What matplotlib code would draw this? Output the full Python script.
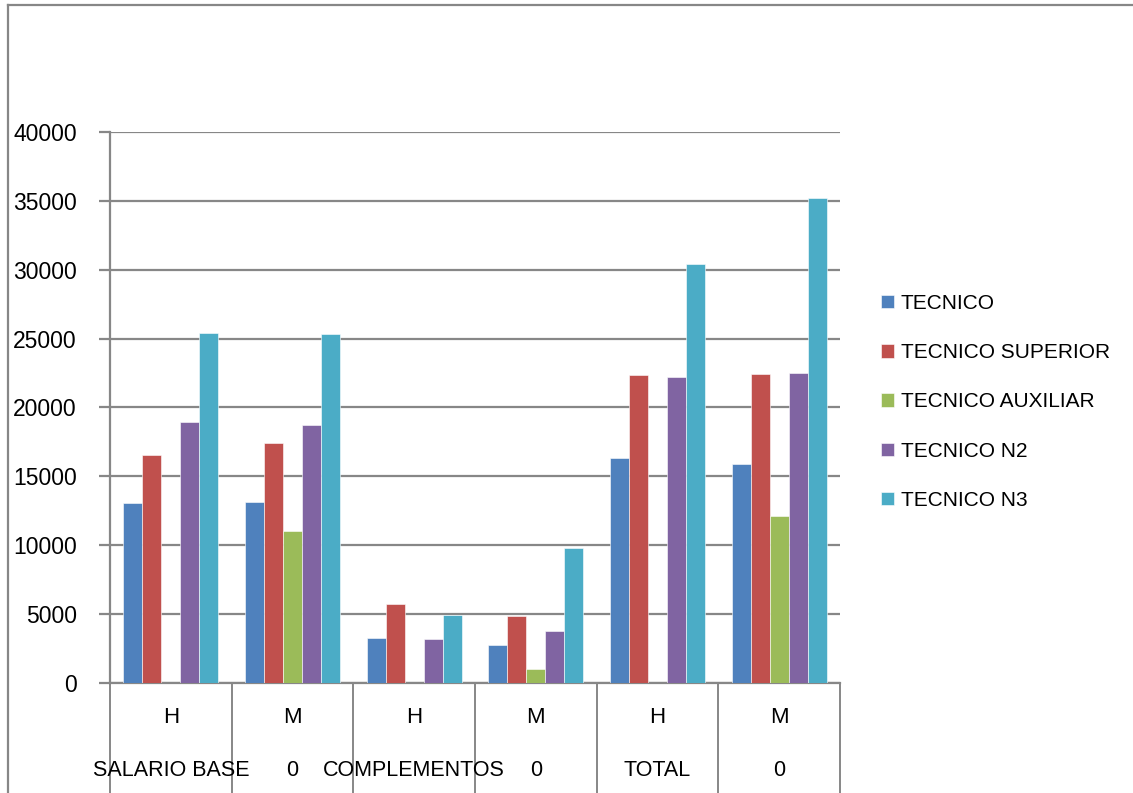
import matplotlib
matplotlib.use("Agg")
import matplotlib.pyplot as plt
import numpy as np

plt.rcParams['font.family'] = ['Liberation Sans', 'DejaVu Sans']

# categories (two levels, as in the spreadsheet)
sexo = ["H", "M", "H", "M", "H", "M"]
grupos = ["SALARIO BASE", "0", "COMPLEMENTOS", "0", "TOTAL", "0"]

series = ["TECNICO", "TECNICO SUPERIOR", "TECNICO AUXILIAR", "TECNICO N2", "TECNICO N3"]
tecnico = [13050, 13160, 3280, 2750, 16340, 15910]
tecnico_sup = [16550, 17440, 5760, 4900, 22340, 22400]
tecnico_aux = [0, 11040, 0, 1020, 0, 12090]
tecnico_n2 = [18980, 18710, 3180, 3740, 22210, 22480]
tecnico_n3 = [25440, 25330, 4930, 9830, 30440, 35210]

colores = ["#4f81bd", "#c0504d", "#9bbb59", "#8064a2", "#4bacc6"]
gris = "#878787"

fig = plt.figure(figsize=(11.33, 7.93), dpi=100)
ax = fig.add_axes([110/1133, 110/793, 730/1133, 551/793])

x = np.arange(len(sexo))
w = 0.156
datos = [tecnico, tecnico_sup, tecnico_aux, tecnico_n2, tecnico_n3]
for i, (vals, nombre, c) in enumerate(zip(datos, series, colores)):
    ax.bar(x + (i - 2) * w, vals, w, color=c, label=nombre, zorder=3,
           edgecolor="white", linewidth=0.4)

ax.set_xlim(-0.5, 5.5)
ax.set_ylim(0, 40000)
ax.set_yticks(range(0, 40001, 5000))
ax.yaxis.grid(True, color=gris, linewidth=1.6, zorder=0)
for s in ["top", "right"]:
    ax.spines[s].set_visible(False)
ax.spines["left"].set_color(gris)
ax.spines["left"].set_linewidth(1.6)
ax.spines["bottom"].set_color(gris)
ax.spines["bottom"].set_linewidth(1.6)
ax.tick_params(axis="y", length=8, width=1.6, color=gris, labelsize=16.5, pad=16)
ax.set_xticks([])

# category separators and two-level labels
tr = ax.get_xaxis_transform()
for b in np.arange(-0.5, 6, 1):
    ax.plot([b, b], [0, -0.2], transform=tr, color=gris, linewidth=1.4, clip_on=False)
for xi, s, g in zip(x, sexo, grupos):
    ax.text(xi, -0.062, s, transform=tr, ha="center", va="center", fontsize=16)
    ax.text(xi, -0.158, g, transform=tr, ha="center", va="center", fontsize=15.5)

leg = ax.legend(loc="center left", bbox_to_anchor=(1.03, 0.51), frameon=False,
                fontsize=15, handlelength=0.62, handleheight=0.62, handletextpad=0.35,
                labelspacing=1.45)

# outer chart border (left and top only visible)
fig.add_artist(plt.Line2D([8/1133, 8/1133], [0, 1 - 5/793], color=gris, linewidth=1.6))
fig.add_artist(plt.Line2D([8/1133, 1132/1133], [1 - 5/793, 1 - 5/793], color=gris, linewidth=1.6))

fig.savefig("out.png", dpi=100)
